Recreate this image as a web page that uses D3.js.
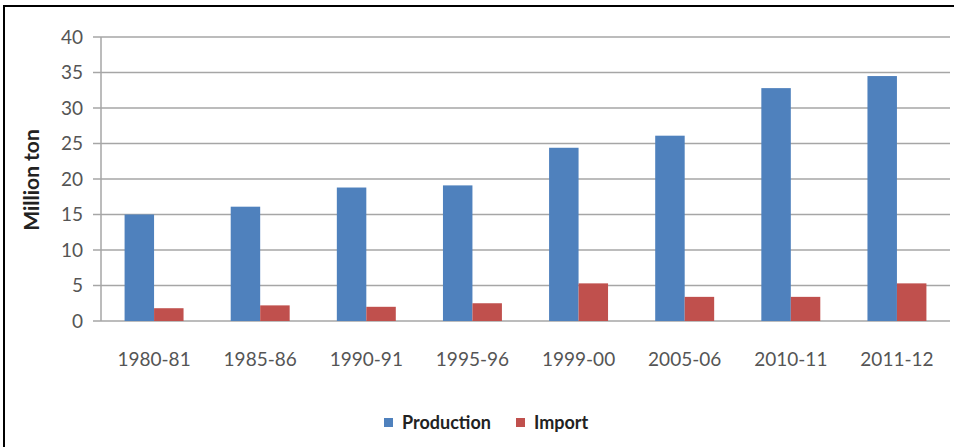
<!DOCTYPE html>
<html>
<head>
<meta charset="utf-8">
<script src="https://cdn.jsdelivr.net/npm/d3@7"></script>
<style>
  body { margin: 0; background: #fff; }
  svg { display: block; font-family: Lato, "Open Sans", sans-serif; }
</style>
</head>
<body>
<div id="chart"></div>
<script>
// data
var years = ["1980-81", "1985-86", "1990-91", "1995-96", "1999-00", "2005-06", "2010-11", "2011-12"];
var production = [15.0, 16.1, 18.8, 19.1, 24.4, 26.1, 32.8, 34.5];
var imports = [1.8, 2.2, 2.0, 2.5, 5.3, 3.4, 3.4, 5.3];
var seriesNames = ["Production", "Import"];
var yTicks = [0, 5, 10, 15, 20, 25, 30, 35, 40];

var colors = { Production: "#4f81bd", Import: "#c0504d" };

var width = 954, height = 447;
var margin = {top: 37, right: 4, bottom: 127, left: 101};

var svg = d3.select("#chart")
  .append("svg")
  .attr("width", width)
  .attr("height", height);

// outer frame (only top and left edges show)
svg.append("rect")
  .attr("x", 4).attr("y", 6)
  .attr("width", 1000).attr("height", 600)
  .attr("fill", "none")
  .attr("stroke", "#000")
  .attr("stroke-width", 2);

var x0 = d3.scaleBand()
  .domain(years)
  .range([margin.left, width - margin.right])
  .paddingInner(0)
  .paddingOuter(0);

var x1 = d3.scaleBand()
  .domain(seriesNames)
  .range([0, x0.bandwidth()])
  .paddingInner(0)
  .paddingOuter(0.8);

var y = d3.scaleLinear()
  .domain([0, 40])
  .range([height - margin.bottom + 1, margin.top]);

// gridlines
svg.append("g")
  .selectAll("line")
  .data(yTicks)
  .enter()
  .append("line")
  .attr("x1", margin.left - 8)
  .attr("x2", width - margin.right)
  .attr("y1", function(d) { return y(d); })
  .attr("y2", function(d) { return y(d); })
  .attr("stroke", "#a6a6a6")
  .attr("stroke-width", 1.5);

// y axis line
svg.append("line")
  .attr("x1", margin.left).attr("x2", margin.left)
  .attr("y1", y(40)).attr("y2", y(0))
  .attr("stroke", "#a6a6a6")
  .attr("stroke-width", 1.5);

// y tick labels
svg.append("g")
  .selectAll("text")
  .data(yTicks)
  .enter()
  .append("text")
  .attr("x", 83)
  .attr("y", function(d) { return y(d); })
  .attr("dy", "0.36em")
  .attr("text-anchor", "end")
  .attr("font-size", 19)
  .attr("fill", "#555")
  .text(function(d) { return d; });

// y axis title
svg.append("text")
  .attr("transform", "translate(39," + 180 + ") rotate(-90)")
  .attr("text-anchor", "middle")
  .attr("font-size", 21)
  .attr("font-weight", "bold")
  .attr("fill", "#222")
  .text("Million ton");

// bars
var rows = years.map(function(yr, i) {
  return { year: yr, Production: production[i], Import: imports[i] };
});

var groups = svg.append("g")
  .selectAll("g")
  .data(rows)
  .enter()
  .append("g")
  .attr("transform", function(d) { return "translate(" + x0(d.year) + ",0)"; });

groups.selectAll("rect")
  .data(function(d) {
    return seriesNames.map(function(k) { return { key: k, value: d[k] }; });
  })
  .enter()
  .append("rect")
  .attr("x", function(d) { return x1(d.key); })
  .attr("y", function(d) { return y(d.value); })
  .attr("width", x1.bandwidth())
  .attr("height", function(d) { return y(0) - y(d.value); })
  .attr("fill", function(d) { return colors[d.key]; });

// x labels
svg.append("g")
  .selectAll("text")
  .data(years)
  .enter()
  .append("text")
  .attr("x", function(d) { return x0(d) + x0.bandwidth() / 2; })
  .attr("y", 366)
  .attr("text-anchor", "middle")
  .attr("font-size", 19)
  .attr("fill", "#555")
  .text(function(d) { return d; });

// legend
var legendX = [384, 516];
var legend = svg.append("g")
  .selectAll("g")
  .data(seriesNames)
  .enter()
  .append("g")
  .attr("transform", function(d, i) { return "translate(" + legendX[i] + ",418)"; });

legend.append("rect")
  .attr("width", 9).attr("height", 9)
  .attr("fill", function(d) { return colors[d]; });

legend.append("text")
  .attr("x", 18)
  .attr("y", 4.5)
  .attr("dy", "0.36em")
  .attr("font-size", 18)
  .attr("font-weight", "bold")
  .attr("fill", "#222")
  .text(function(d) { return d; });
</script>
</body>
</html>
